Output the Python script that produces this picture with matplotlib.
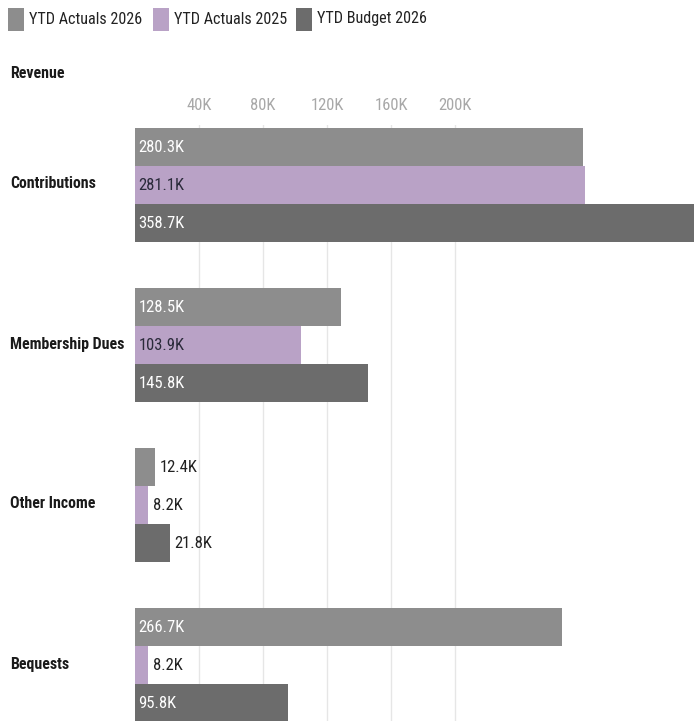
import matplotlib
matplotlib.use("Agg")
import matplotlib.pyplot as plt
from matplotlib.patches import Rectangle

plt.rcParams['font.family'] = ['Roboto Condensed', 'Roboto', 'DejaVu Sans']

categories = ["Contributions", "Membership Dues", "Other Income", "Bequests"]
series_names = ["YTD Actuals 2026", "YTD Actuals 2025", "YTD Budget 2026"]
actuals_2026 = [280.3, 128.5, 12.4, 266.7]
actuals_2025 = [281.1, 103.9, 8.2, 8.2]
budget_2026 = [358.7, 145.8, 21.8, 95.8]
tick_values = [40, 80, 120, 160, 200]
tick_labels = ["40K", "80K", "120K", "160K", "200K"]

colors = ["#8d8d8d", "#b9a2c6", "#6c6c6c"]
inside_text = ["white", "#2a2a3a", "white"]

W, H = 694, 721
fig = plt.figure(figsize=(W / 100, H / 100), dpi=100)

# pixel-based layout helpers
bar_px = 38.0
pitch_px = 160.0
first_center_px = 185.0
ax_top_px = 125.0
ax_left_px = 135.0

ax = fig.add_axes([ax_left_px / W, 0, 1 - ax_left_px / W, 1 - ax_top_px / H])
px_per_k = 1.6
ax.set_xlim(0, (W - ax_left_px) / px_per_k)
pitch = pitch_px / bar_px
y_top = -(first_center_px - ax_top_px) / bar_px
y_bot = (H - first_center_px) / bar_px
ax.set_ylim(y_bot, y_top)

series = [actuals_2026, actuals_2025, budget_2026]
for s, vals in enumerate(series):
    for g, v in enumerate(vals):
        yc = g * pitch + (s - 1)
        ax.barh(yc, v, height=1.0, color=colors[s], zorder=2, linewidth=0)
        lbl = f"{v:.1f}K"
        bar_w_px = v * px_per_k
        est_w = len(lbl) * 7.5
        if bar_w_px > est_w + 8:
            ax.annotate(lbl, (0, yc), xytext=(2.5, 0), textcoords="offset points",
                        ha="left", va="center", color=inside_text[s], fontsize=12, zorder=3)
        else:
            ax.annotate(lbl, (v, yc), xytext=(3.5, 0), textcoords="offset points",
                        ha="left", va="center", color="#222222", fontsize=12, zorder=3)

ax.set_xticks(tick_values)
ax.set_xticklabels(tick_labels)
ax.xaxis.tick_top()
ax.tick_params(axis="x", length=0, pad=9, labelsize=12, labelcolor="#a8a8a8")
ax.set_yticks([])
ax.grid(axis="x", color="#e6e6e6", linewidth=1, zorder=0)
ax.set_axisbelow(True)
for sp in ax.spines.values():
    sp.set_visible(False)

# category labels
for g, c in enumerate(categories):
    fig.text(10 / W, 1 - (first_center_px - 1 + g * pitch_px) / H, c, ha="left", va="center",
             fontsize=11.4, fontweight="bold", color="#1a1a1a")

fig.text(10 / W, 1 - 73 / H, "Revenue", ha="left", va="center",
         fontsize=11.4, fontweight="bold", color="#1a1a1a")

# legend
leg_x = [8, 153, 296]
for i, name in enumerate(series_names):
    fig.patches.append(Rectangle((leg_x[i] / W, 1 - 31 / H), 16 / W, 23 / H,
                                 transform=fig.transFigure, color=colors[i], linewidth=0))
    fig.text((leg_x[i] + 21) / W, 1 - 19 / H, name, ha="left", va="center",
             fontsize=11.6, color="#222222")

fig.savefig("out.png", dpi=100)
